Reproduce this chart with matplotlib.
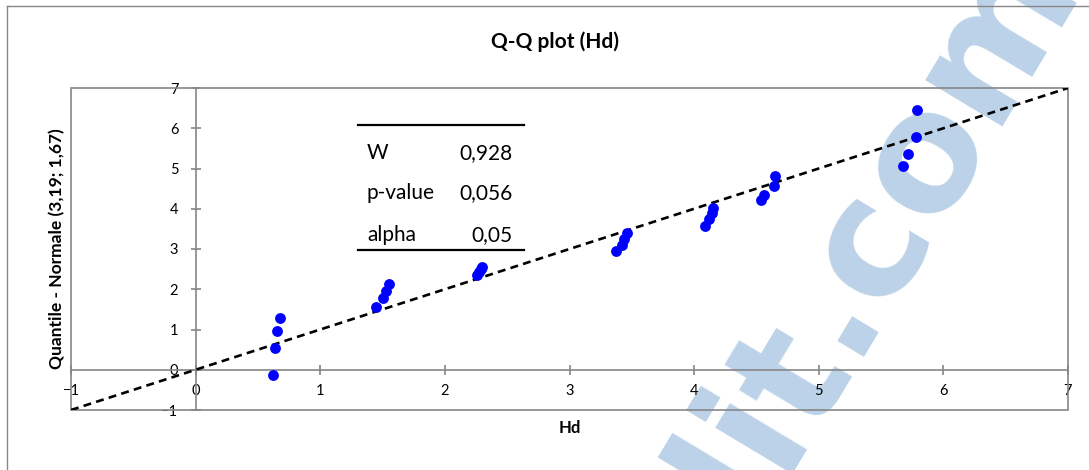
import numpy as np
import matplotlib
matplotlib.use('Agg')
from matplotlib import pyplot as plt
from matplotlib.lines import Line2D
from matplotlib.patches import Rectangle

plt.rcParams['font.family'] = ['Lato', 'DejaVu Sans']

# observed Hd values against the theoretical normal quantiles N(3,19; 1,67)
hd = [0.62, 0.64, 0.65, 0.68,
      1.45, 1.50, 1.53, 1.55,
      2.26, 2.27, 2.29, 2.30,
      3.37, 3.42, 3.44, 3.46,
      4.09, 4.12, 4.14, 4.15,
      4.54, 4.56, 4.64, 4.65,
      5.68, 5.72, 5.78, 5.79]
quantiles = [-0.12, 0.55, 0.97, 1.28,
             1.55, 1.78, 1.96, 2.14,
             2.36, 2.43, 2.50, 2.56,
             2.94, 3.11, 3.25, 3.40,
             3.56, 3.75, 3.89, 4.03,
             4.21, 4.35, 4.57, 4.82,
             5.06, 5.37, 5.78, 6.46]

ref_line = [-1, 7]
ticks = [-1, 0, 1, 2, 3, 4, 5, 6, 7]

stat_names = ['W', 'p-value', 'alpha']
stat_values = ['0,928', '0,056', '0,05']

W, H = 1089, 470
GRAY = '#868686'


def fx(px):
    return px / W


def fy(py):
    return 1 - py / H


fig = plt.figure(figsize=(W / 100, H / 100), dpi=100)
ax = fig.add_axes([fx(71), fy(410), fx(1068) - fx(71), fy(88) - fy(410)])
ax.set_facecolor('none')

ax.plot(ref_line, ref_line, color='black', lw=1.9, dashes=(3, 2), zorder=3)
ax.plot(hd, quantiles, 'o', color='#0000ff', ms=7.8, mec='none', zorder=4)

ax.set_xlim(-1, 7)
ax.set_ylim(-1, 7)
ax.set_xticks(ticks)
ax.set_yticks(ticks)

# axes cross at zero, plot area boxed in grey
ax.spines['left'].set_position(('data', 0))
ax.spines['bottom'].set_position(('data', 0))
for s in ['top', 'right']:
    ax.spines[s].set_visible(False)
for s in ['left', 'bottom']:
    ax.spines[s].set_color(GRAY)
    ax.spines[s].set_linewidth(1.2)
ax.add_patch(Rectangle((0, 0), 1, 1, transform=ax.transAxes, fill=False,
                       ec=GRAY, lw=1.2, zorder=2, clip_on=False))

ax.tick_params(axis='both', direction='inout', length=7, width=1.2,
               color=GRAY, labelsize=10.5, labelcolor='black')
ax.tick_params(axis='x', pad=7)
ax.tick_params(axis='y', pad=9)

fig.text(fx(555), fy(42), 'Q-Q plot (Hd)', fontsize=15, fontweight='bold',
         ha='center', va='center')
fig.text(fx(570), fy(428), 'Hd', fontsize=12, fontweight='bold',
         ha='center', va='center')
fig.text(fx(57), fy(249), 'Quantile - Normale (3,19; 1,67)', fontsize=12.5,
         fontweight='bold', rotation=90, ha='center', va='center')

# statistics table
row_y = [153, 193, 235]
for name, val, py in zip(stat_names, stat_values, row_y):
    fig.text(fx(367), fy(py), name, fontsize=15, ha='left', va='center')
    fig.text(fx(513), fy(py), val, fontsize=15, ha='right', va='center')
for py in [125, 250]:
    fig.add_artist(Line2D([fx(358), fx(524)], [fy(py), fy(py)],
                          color='black', lw=1.6))

# chart area border
fig.add_artist(Line2D([fx(7), fx(7)], [fy(6), 0], color=GRAY, lw=1))
fig.add_artist(Line2D([fx(7), 1], [fy(6), fy(6)], color=GRAY, lw=1))

# watermark
fig.text(fx(752), fy(522), 'lit.com', fontsize=118, fontweight='bold',
         color='#bcd2e8', rotation=59, rotation_mode='anchor',
         ha='left', va='baseline', family='DejaVu Sans', zorder=-1)

fig.savefig('out.png', dpi=100)
